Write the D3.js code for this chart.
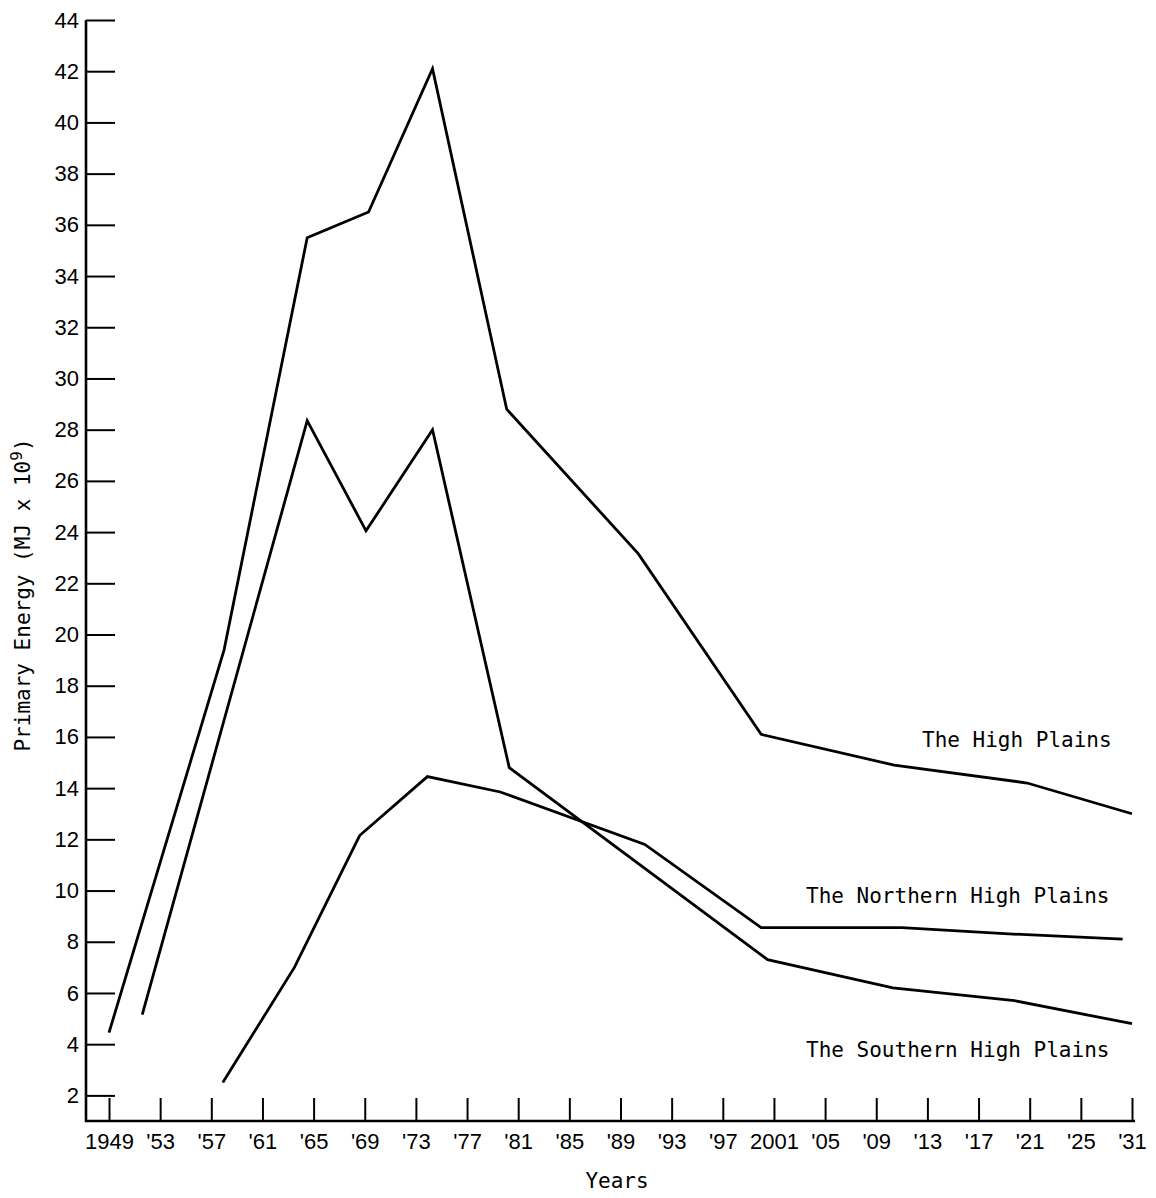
<!DOCTYPE html>
<html>
<head>
<meta charset="utf-8">
<script src="https://cdn.jsdelivr.net/npm/d3@7"></script>
<style>
  html, body { margin: 0; padding: 0; background: #fff; }
  svg { display: block; }
  .tick text { font-family: "Liberation Sans", Arial, sans-serif; font-size: 22px; fill: #000; }
  .mono { font-family: "DejaVu Sans Mono", "Liberation Mono", monospace; font-size: 21px; fill: #000; }
</style>
</head>
<body>
<svg id="chart" width="1156" height="1198"></svg>
<script>
// Axis ticks: years every four years (last step jumps to 2031)
const tickYears = [1949, 1953, 1957, 1961, 1965, 1969, 1973, 1977, 1981, 1985, 1989,
                   1993, 1997, 2001, 2005, 2009, 2013, 2017, 2021, 2025, 2031];
const tickLabels = ["1949", "'53", "'57", "'61", "'65", "'69", "'73", "'77", "'81", "'85", "'89",
                    "'93", "'97", "2001", "'05", "'09", "'13", "'17", "'21", "'25", "'31"];
const yTickValues = [2, 4, 6, 8, 10, 12, 14, 16, 18, 20, 22, 24, 26, 28, 30, 32, 34, 36, 38, 40, 42, 44];

// Primary energy (MJ x 10^9) by region
const highPlainsYears  = [1949, 1958, 1964.5, 1969.3, 1974.3, 1980.1, 1990.4, 2000, 2010.4, 2020.8, 2031];
const highPlainsValues = [4.45, 19.4, 35.5, 36.5, 42.1, 28.8, 23.15, 16.1, 14.9, 14.2, 13.0];

const northernYears  = [1957.9, 1963.5, 1968.6, 1973.9, 1979.6, 1990.9, 2000, 2011, 2019.7, 2029.9];
const northernValues = [2.5, 7.0, 12.15, 14.45, 13.85, 11.8, 8.55, 8.55, 8.3, 8.1];

const southernYears  = [1951.6, 1964.5, 1969.1, 1974.3, 1980.3, 2000.5, 2010.3, 2019.8, 2031];
const southernValues = [5.15, 28.35, 24.05, 28.0, 14.8, 7.3, 6.2, 5.7, 4.8];

const seriesNames = ["The High Plains", "The Northern High Plains", "The Southern High Plains"];

const svg = d3.select("#chart");

const axisX = 86, baseY = 1121;
const firstTickX = 109, lastTickX = 1132;
const step = (lastTickX - firstTickX) / (tickYears.length - 1);

// Ticks are evenly spaced, so the year scale is piecewise linear over them
const x = d3.scaleLinear()
  .domain(tickYears)
  .range(tickYears.map((d, i) => firstTickX + i * step));

const y = d3.scaleLinear().domain([1, 44]).range([baseY, 20]);

// Axis lines
svg.append("line")
  .attr("x1", axisX).attr("x2", axisX)
  .attr("y1", y(44)).attr("y2", baseY + 1)
  .attr("stroke", "#000").attr("stroke-width", 2.6);
svg.append("line")
  .attr("x1", axisX - 1).attr("x2", 1135)
  .attr("y1", baseY).attr("y2", baseY)
  .attr("stroke", "#000").attr("stroke-width", 2.6);

// Y axis: ticks pointing into the plot
const yAxis = d3.axisLeft(y)
  .tickValues(yTickValues)
  .tickSizeInner(-29)
  .tickSizeOuter(0)
  .tickPadding(7);
const gy = svg.append("g").attr("transform", `translate(${axisX},0)`).call(yAxis);
gy.select(".domain").remove();
gy.selectAll(".tick line").attr("stroke", "#000").attr("stroke-width", 2);

// X axis: short upward ticks
const xAxis = d3.axisBottom(x)
  .tickValues(tickYears)
  .tickFormat((d, i) => tickLabels[i])
  .tickSizeInner(-23)
  .tickSizeOuter(0)
  .tickPadding(12);
const gx = svg.append("g").attr("transform", `translate(0,${baseY})`).call(xAxis);
gx.select(".domain").remove();
gx.selectAll(".tick line").attr("stroke", "#000").attr("stroke-width", 2);

// Axis titles
svg.append("text").attr("class", "mono")
  .attr("x", 617).attr("y", 1188)
  .attr("text-anchor", "middle")
  .text("Years");

const yTitle = svg.append("text").attr("class", "mono")
  .attr("transform", "translate(30,595) rotate(-90)")
  .attr("text-anchor", "middle")
  .attr("font-size", 22);
yTitle.append("tspan").text("Primary Energy (MJ x 10");
yTitle.append("tspan").attr("dy", -8).attr("font-size", 16).text("9");
yTitle.append("tspan").attr("dy", 8).text(")");

// Series lines
const line = d3.line().x(d => x(d[0])).y(d => y(d[1]));
const series = [
  d3.zip(highPlainsYears, highPlainsValues),
  d3.zip(northernYears, northernValues),
  d3.zip(southernYears, southernValues)
];
svg.append("g").selectAll("path")
  .data(series)
  .join("path")
  .attr("d", line)
  .attr("fill", "none")
  .attr("stroke", "#000")
  .attr("stroke-width", 2.8)
  .attr("stroke-linejoin", "miter");

// Series labels
const labelPos = [[922, 747], [806, 903], [806, 1057]];
svg.append("g").selectAll("text")
  .data(seriesNames)
  .join("text")
  .attr("class", "mono")
  .attr("x", (d, i) => labelPos[i][0])
  .attr("y", (d, i) => labelPos[i][1])
  .text(d => d);
</script>
</body>
</html>
